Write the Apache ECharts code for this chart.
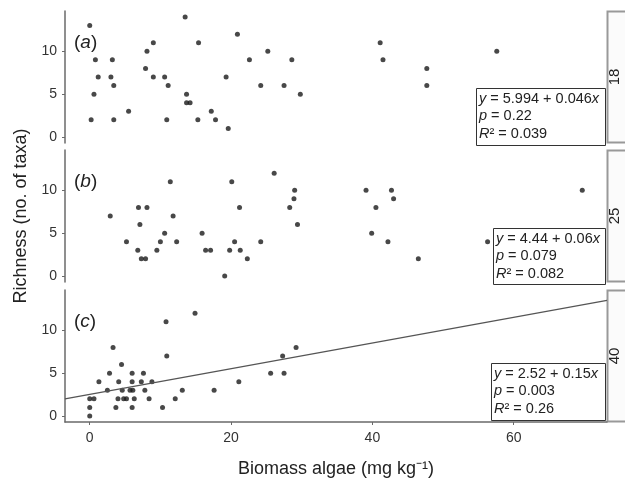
<!DOCTYPE html>
<html>
<head>
<meta charset="utf-8">
<script src="https://cdn.jsdelivr.net/npm/echarts@6/dist/echarts.min.js"></script>
<style>
  html, body { margin: 0; padding: 0; background: #fff; }
  #chart { width: 625px; height: 479px; }
</style>
</head>
<body>
<div id="chart"></div>
<script>
// 18 panel (a)
var xA = [0, 0.8, 1.2, 0.6, 0.2, 3.2, 3.0, 3.4, 3.4, 5.5, 8.1, 9.0, 7.9, 9.0, 10.6, 11.1, 10.9, 13.5, 15.4, 13.7,
          13.7, 14.2, 15.3, 17.2, 17.8, 19.6, 19.3, 20.9, 22.6, 24.2, 25.2, 27.5, 28.6, 29.8, 41.1, 41.5, 47.7, 47.7, 57.6];
var yA = [13, 9, 7, 5, 2, 9, 7, 6, 2, 3, 10, 11, 8, 7, 7, 6, 2, 14, 11, 5,
          4, 4, 2, 3, 2, 1, 7, 12, 9, 6, 10, 6, 9, 5, 11, 9, 8, 6, 10];
// 25 panel (b)
var xB = [2.9, 5.2, 6.9, 7.1, 6.8, 7.3, 7.9, 8.1, 9.5, 10.0, 10.6, 11.4, 11.8, 12.3, 15.9, 16.4, 17.1, 19.1, 19.8, 20.1,
          20.5, 21.2, 21.3, 22.3, 24.2, 26.1, 28.3, 28.9, 29.0, 29.4, 39.1, 42.7, 43.0, 40.5, 39.9, 42.2, 46.5, 56.3, 69.7];
var yB = [7, 4, 8, 6, 3, 2, 2, 8, 3, 4, 5, 11, 7, 4, 5, 3, 3, 0, 3, 11,
          4, 8, 3, 2, 4, 12, 8, 9, 10, 6, 10, 10, 9, 8, 5, 4, 2, 4, 10];
// 40 panel (c)
var xC = [0, 0, 0, 0.6, 1.3, 2.5, 2.8, 3.3, 3.7, 4.1, 4.0, 4.5, 4.6, 4.8, 5.2, 5.7, 6.1, 6.0, 6.0, 6.0,
          6.3, 7.3, 7.6, 7.8, 8.4, 8.8, 10.3, 10.8, 10.9, 12.1, 13.1, 14.9, 17.6, 21.1, 25.6, 27.3, 27.5, 29.2];
var yC = [0, 1, 2, 2, 4, 3, 5, 8, 1, 4, 2, 6, 3, 2, 2, 3, 3, 5, 4, 1,
          2, 4, 5, 3, 2, 4, 1, 11, 7, 2, 3, 12, 3, 4, 5, 7, 5, 8];

var stripLabels = ['18', '25', '40'];
var panelLabels = ['a', 'b', 'c'];
var fitEq = [
  ['5.994', '0.046', '0.22', '0.039'],
  ['4.44', '0.06', '0.079', '0.082'],
  ['2.52', '0.15', '0.003', '0.26']
];
var fitC = { intercept: 2.52, slope: 0.15 };
var xTicks = [0, 20, 40, 60];
var yTicks = [0, 5, 10];

var X_MIN = -3.5, X_MAX = 73.2, Y_MIN = -0.7, Y_MAX = 14.7;
var FONT = 'Liberation Sans, Arial, sans-serif';
var AXIS_COL = '#6a6a6a';

var chart = echarts.init(document.getElementById('chart'));

function pairs(xs, ys) {
  return xs.map(function (v, i) { return [v, ys[i]]; });
}

var gridTops = [11, 150, 290];
var grids = gridTops.map(function (t) {
  return { left: 65, right: 18, top: t, height: 132 };
});

var xAxes = [0, 1, 2].map(function (i) {
  var bottom = i === 2;
  return {
    type: 'value', gridIndex: i, min: X_MIN, max: X_MAX,
    splitLine: { show: false },
    axisLine: { show: bottom, onZero: false, lineStyle: { color: AXIS_COL, width: 1.5 } },
    axisTick: { show: bottom, length: 3, customValues: xTicks, lineStyle: { color: AXIS_COL } },
    axisLabel: { show: bottom, customValues: xTicks, margin: 9, fontSize: 14, color: '#333', fontFamily: FONT },
    name: bottom ? 'Biomass algae (mg kg\u207B\u00B9)' : '',
    nameLocation: 'middle', nameGap: 38,
    nameTextStyle: { fontSize: 18, color: '#222', fontFamily: FONT }
  };
});

var yAxes = [0, 1, 2].map(function (i) {
  return {
    type: 'value', gridIndex: i, min: Y_MIN, max: Y_MAX,
    splitLine: { show: false },
    axisLine: { show: true, onZero: false, lineStyle: { color: AXIS_COL, width: 1.5 } },
    axisTick: { show: true, length: 3, customValues: yTicks, lineStyle: { color: AXIS_COL } },
    axisLabel: { customValues: yTicks, margin: 8, fontSize: 14, color: '#333', fontFamily: FONT },
    name: i === 1 ? 'Richness (no. of taxa)' : '',
    nameLocation: 'middle', nameGap: 33,
    nameTextStyle: { fontSize: 18, color: '#222', fontFamily: FONT }
  };
});

var dataSets = [pairs(xA, yA), pairs(xB, yB), pairs(xC, yC)];
var series = dataSets.map(function (d, i) {
  return {
    type: 'scatter', xAxisIndex: i, yAxisIndex: i, data: d,
    symbolSize: 5, itemStyle: { color: '#1a1a1a' }, silent: true
  };
});
series.push({
  type: 'line', xAxisIndex: 2, yAxisIndex: 2, symbol: 'none', silent: true,
  data: [[X_MIN, fitC.intercept + fitC.slope * X_MIN], [X_MAX, fitC.intercept + fitC.slope * X_MAX]],
  lineStyle: { color: '#555', width: 1.2 }
});

// annotation boxes
var boxes = [
  { x: 476, y: 88, w: 129, h: 57 },
  { x: 493, y: 228, w: 112, h: 56 },
  { x: 491, y: 363, w: 114, h: 57 }
];
var graphic = [];
gridTops.forEach(function (t, i) {
  // strip on the right
  graphic.push({
    type: 'rect', shape: { x: 607.5, y: t + 0.5, width: 30, height: 131 },
    style: { fill: '#fbfbfb', stroke: '#999', lineWidth: 2 }, silent: true
  });
  graphic.push({
    type: 'text', x: 615, y: t + 66, rotation: Math.PI / 2,
    style: { text: stripLabels[i], fontSize: 15, fontFamily: FONT, fill: '#222', align: 'center', verticalAlign: 'middle' },
    silent: true
  });
  // panel label
  graphic.push({
    type: 'text', x: 74, y: t + 32,
    style: {
      text: '({i|' + panelLabels[i] + '})', fontSize: 19, fontFamily: FONT, fill: '#222', verticalAlign: 'middle',
      rich: { i: { fontStyle: 'italic', fontSize: 19, fontFamily: FONT, fill: '#222' } }
    },
    silent: true
  });
  // regression box
  var b = boxes[i], e = fitEq[i];
  graphic.push({
    type: 'rect', shape: { x: b.x + 0.5, y: b.y + 0.5, width: b.w, height: b.h },
    style: { fill: '#fff', stroke: '#333', lineWidth: 1 }, silent: true
  });
  graphic.push({
    type: 'text', x: b.x + 3, y: b.y + 2,
    style: {
      text: '{i|y} = ' + e[0] + ' + ' + e[1] + '{i|x}\n{i|p} = ' + e[2] + '\n{i|R}\u00B2 = ' + e[3],
      fontSize: 14.5, fontFamily: FONT, fill: '#222', lineHeight: 17.5,
      rich: { i: { fontStyle: 'italic', fontSize: 14.5, fontFamily: FONT, fill: '#222', lineHeight: 17.5 } }
    },
    silent: true
  });
});

chart.setOption({
  animation: false,
  backgroundColor: '#fff',
  textStyle: { fontFamily: FONT },
  grid: grids,
  xAxis: xAxes,
  yAxis: yAxes,
  series: series,
  graphic: graphic
});
</script>
</body>
</html>
